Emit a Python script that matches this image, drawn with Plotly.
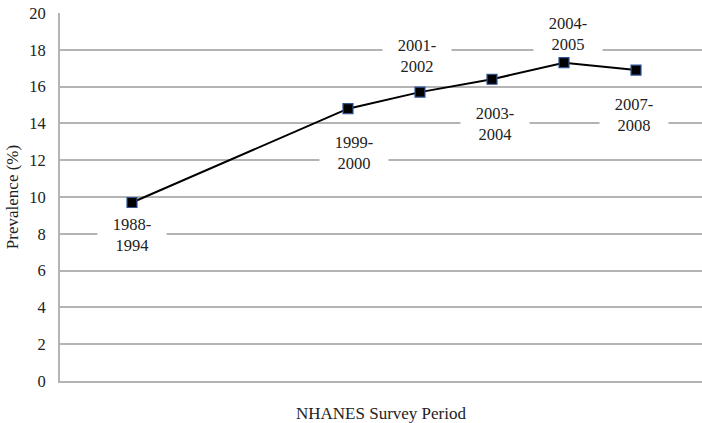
import plotly.graph_objects as go

# NHANES survey periods and prevalence (%)
periods = ["1988-1994", "1999-2000", "2001-2002", "2003-2004", "2004-2005", "2007-2008"]
slots = [1, 4, 5, 6, 7, 8]          # horizontal slot of each period on the axis
prevalence = [9.7, 14.8, 15.7, 16.4, 17.3, 16.9]
y_ticks = [0, 2, 4, 6, 8, 10, 12, 14, 16, 18, 20]

# vertical offset (px) of each period label relative to its point
label_shift = [-32, -44, 36, -45, 29, -45]
label_dx = [0, 6, -3, 3, 4, -2]

SERIF = "Liberation Serif"
INK = "#222"
GRID = "#b4b4b4"

fig = go.Figure()
fig.add_trace(go.Scatter(
    x=slots, y=prevalence, mode="lines+markers",
    line=dict(color="black", width=2),
    marker=dict(symbol="square", size=10, color="black",
                line=dict(color="#2f5597", width=1.2)),
    hoverinfo="skip", showlegend=False,
))

for xv, yv, name, dy, dx in zip(slots, prevalence, periods, label_shift, label_dx):
    start, end = name.split("-")
    fig.add_annotation(
        x=xv, y=yv, xref="x", yref="y",
        text=f"{start}-<br>{end}", showarrow=False,
        xshift=dx, yshift=dy, width=68, height=42,
        bgcolor="white", borderpad=0,
        font=dict(family=SERIF, size=16.5, color=INK),
    )

fig.update_layout(
    width=702, height=423,
    margin=dict(l=60, r=0, t=13, b=42),
    paper_bgcolor="white", plot_bgcolor="white",
    xaxis=dict(range=[0, 642 / 72], showgrid=False, zeroline=False,
               showticklabels=False, ticks="",
               showline=True, linecolor=GRID, linewidth=2,
               title=dict(text="NHANES Survey Period", standoff=25,
                          font=dict(family=SERIF, size=17, color=INK))),
    yaxis=dict(range=[0, 20], tickvals=y_ticks, showgrid=True,
               gridcolor=GRID, gridwidth=2, zeroline=False,
               showline=True, linecolor=GRID, linewidth=2,
               ticks="", ticklabelstandoff=9,
               tickfont=dict(family=SERIF, size=16.5, color=INK),
               title=dict(text="Prevalence (%)", standoff=6,
                          font=dict(family=SERIF, size=17, color=INK))),
)

fig.write_html("out.html")
